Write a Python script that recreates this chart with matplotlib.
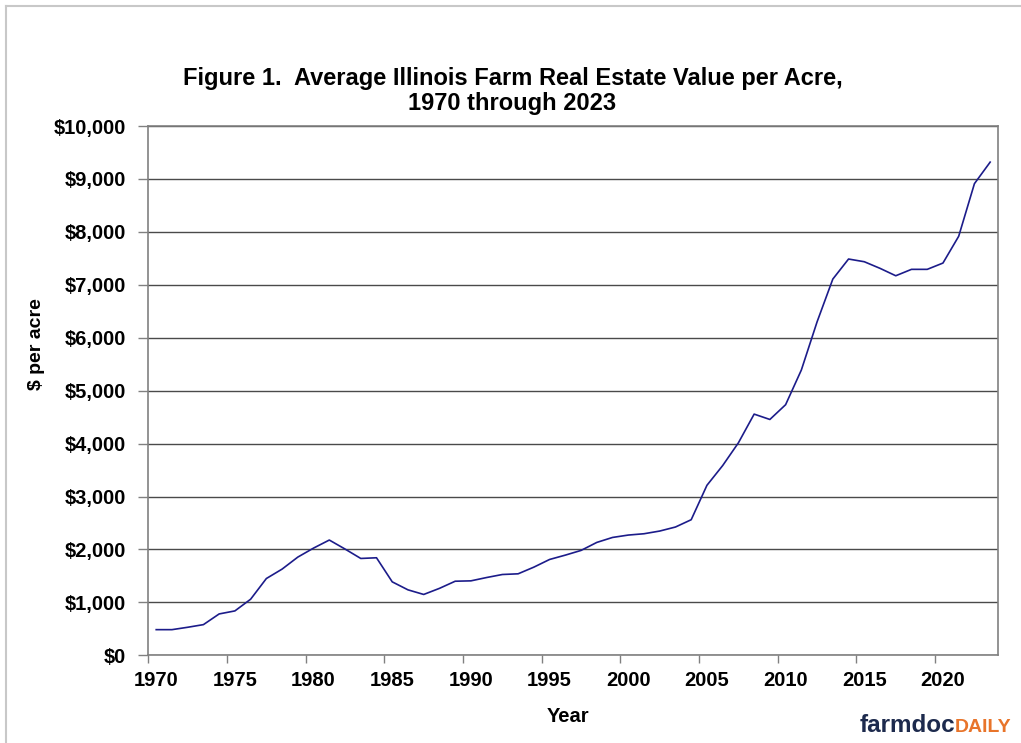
import matplotlib
matplotlib.use('Agg')
import matplotlib.pyplot as plt
from matplotlib.ticker import FuncFormatter, FixedLocator, NullFormatter
from matplotlib.lines import Line2D

# Average Illinois farm real estate value, $ per acre
years = list(range(1970, 2024))
values = [
    485, 485, 530, 580, 782, 839, 1060, 1451, 1629, 1856,      # 1970-1979
    2026, 2178, 2008, 1830, 1843, 1388, 1237, 1150, 1265, 1400,  # 1980-1989
    1407, 1470, 1527, 1540, 1666, 1811, 1893, 1982, 2133, 2227,  # 1990-1999
    2272, 2297, 2348, 2424, 2562, 3212, 3585, 4015, 4557, 4456,  # 2000-2009
    4735, 5390, 6300, 7108, 7487, 7436, 7311, 7171, 7292, 7292,  # 2010-2019
    7411, 7917, 8911, 9318,                                      # 2020-2023
]
x_ticks = list(range(1970, 2021, 5))
y_ticks = list(range(0, 10001, 1000))

plt.rcParams['font.family'] = ['Liberation Sans', 'DejaVu Sans']

fig = plt.figure(figsize=(10.21, 7.43), dpi=100)
ax = fig.add_axes([0.1453, 0.1180, 0.8322, 0.7124])

# Excel-style category axis: points (and labels) sit in the middle of each year slot
ax.plot([y + 0.5 for y in years], values, color='#1c1c8a', linewidth=1.2)

ax.set_xlim(1970, 2024)
ax.set_ylim(0, 10000)

# tick marks on slot boundaries, labels in slot centres
ax.xaxis.set_major_locator(FixedLocator(x_ticks))
ax.xaxis.set_major_formatter(NullFormatter())
ax.xaxis.set_minor_locator(FixedLocator([x + 0.5 for x in x_ticks]))
ax.xaxis.set_minor_formatter(FuncFormatter(lambda v, p: f'{int(v)}'))
ax.tick_params(axis='x', which='major', direction='out', length=6, width=1.0, color='#808080')
ax.tick_params(axis='x', which='minor', length=0, labelsize=14.5, pad=11)

ax.set_yticks(y_ticks)
ax.yaxis.set_major_formatter(FuncFormatter(lambda v, p: f'${v:,.0f}'))
ax.tick_params(axis='y', direction='out', length=7, width=1.0, color='#808080',
               labelsize=14.5, pad=9)

for lbl in ax.get_xticklabels(minor=True) + ax.get_yticklabels():
    lbl.set_fontweight('bold')

ax.grid(True, axis='y', color='#4a4a4a', linewidth=1.0)
ax.set_axisbelow(True)
for side in ['left', 'bottom', 'right', 'top']:
    ax.spines[side].set_color('#808080')
    ax.spines[side].set_linewidth(1.2)

fig.text(0.556, 0.035, 'Year', ha='center', va='center', fontsize=14.5, fontweight='bold')
fig.text(0.036, 0.537, '$ per acre', ha='center', va='center', rotation=90,
         fontsize=14, fontweight='bold')

fig.text(0.502, 0.8775, 'Figure 1.  Average Illinois Farm Real Estate Value per Acre,\n1970 through 2023',
         ha='center', va='center', fontsize=17, fontweight='bold', linespacing=1.1)

# logo text
fig.text(0.8423, 0.024, 'farmdoc', ha='left', va='center', fontsize=17.5,
         fontweight='bold', color='#1d2a4d')
fig.text(0.9354, 0.021, 'DAILY', ha='left', va='center', fontsize=14,
         fontweight='bold', color='#e8742a')

# light frame on the left and top edges
fig.add_artist(Line2D([0.0054, 0.0054], [0, 0.9913], transform=fig.transFigure,
                      color='#c8c8c8', linewidth=1.5))
fig.add_artist(Line2D([0.0054, 1.0], [0.9913, 0.9913], transform=fig.transFigure,
                      color='#c8c8c8', linewidth=1.5))

fig.savefig('out.png', dpi=100)
